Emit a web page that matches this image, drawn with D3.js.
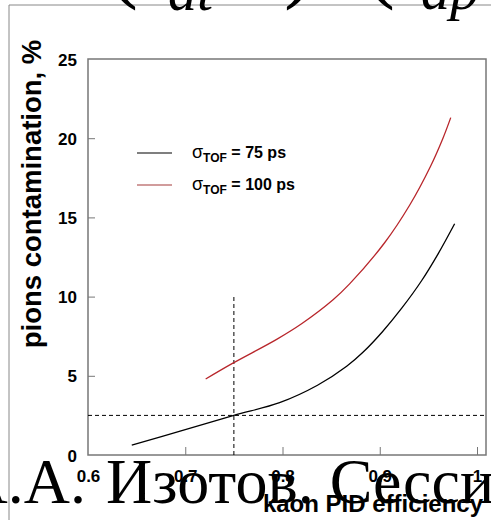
<!DOCTYPE html>
<meta charset="utf-8">
<title>pions contamination vs kaon PID efficiency</title>
<style>
  body { margin: 0; background: #fff; }
  .tick text { font-family: "Liberation Sans", Arial, sans-serif; font-weight: bold; font-size: 17px; fill: #000; }
  .tick line { stroke: #777; }
  .big { font-family: "Liberation Serif", "Times New Roman", serif; fill: #000; }
</style>
<body>
<script src="https://cdn.jsdelivr.net/npm/d3@7"></script>
<script>
// data
var eff75  = [0.645, 0.70, 0.75, 0.797, 0.836, 0.866, 0.883, 0.903, 0.923, 0.943, 0.960, 0.977];
var cont75 = [0.63, 1.6, 2.5, 3.3, 4.4, 5.6, 6.5, 7.8, 9.3, 11.0, 12.7, 14.6];
var eff100  = [0.721, 0.749, 0.794, 0.82, 0.852, 0.869, 0.905, 0.931, 0.952, 0.965, 0.973];
var cont100 = [4.8, 5.8, 7.3, 8.3, 9.8, 10.8, 13.4, 15.8, 18.2, 20.0, 21.3];
var xTicks = [0.6, 0.7, 0.8, 0.9, 1];
var yTicks = [0, 5, 10, 15, 20, 25];
var cutX = 0.75, cutY = 2.5, cutTop = 10;

var W = 491, H = 520;
var svg = d3.select("body").append("svg")
    .attr("width", W).attr("height", H);

// slide frame
svg.append("line").attr("x1", 9).attr("x2", W).attr("y1", 5).attr("y2", 5)
    .attr("stroke", "#888").attr("stroke-width", 1);
svg.append("line").attr("x1", 9).attr("x2", 9).attr("y1", 5).attr("y2", H)
    .attr("stroke", "#888").attr("stroke-width", 1);

// leftover formula at the top of the slide
var formula = [
  {t: "(", x: 108, y: -9, s: 90, it: false},
  {t: "dt", x: 168, y: 10, s: 58, it: true},
  {t: ")", x: 284, y: -9, s: 90, it: false},
  {t: "(", x: 365, y: -9, s: 90, it: false},
  {t: "dp", x: 421, y: 9, s: 58, it: true}
];
svg.selectAll("text.f").data(formula).enter().append("text")
    .attr("class", "big f")
    .attr("x", function(d) { return d.x; })
    .attr("y", function(d) { return d.y; })
    .style("font-size", function(d) { return d.s + "px"; })
    .style("font-style", function(d) { return d.it ? "italic" : "normal"; })
    .text(function(d) { return d.t; });

var x = d3.scaleLinear().domain([0.6, 1.0]).range([88, 477]);
var y = d3.scaleLinear().domain([0, 25]).range([455, 59]);
var right = 486;

var g = svg.append("g");

// frame
g.append("rect")
    .attr("x", x(0.6)).attr("y", y(25))
    .attr("width", right - x(0.6)).attr("height", y(0) - y(25))
    .attr("fill", "none").attr("stroke", "#777").attr("stroke-width", 1.5);

// axes with inward ticks
g.append("g").attr("transform", "translate(0," + y(0) + ")")
    .call(d3.axisBottom(x).tickValues(xTicks).tickSize(-8).tickPadding(15)
      .tickFormat(function(d) { return d === 1 ? "1" : d3.format(".1f")(d); }))
    .call(function(a) { a.select(".domain").remove(); })
    .call(function(a) { a.selectAll(".tick line").filter(function(d) { return d === 0.6; }).remove(); });

g.append("g").attr("transform", "translate(" + x(0.6) + ",0)")
    .call(d3.axisLeft(y).tickValues(yTicks).tickSize(-7).tickPadding(11))
    .call(function(a) { a.select(".domain").remove(); })
    .call(function(a) { a.selectAll(".tick line").filter(function(d) { return d === 0 || d === 25; }).remove(); })
    .call(function(a) { a.selectAll(".tick text").attr("dy", "0.36em"); });

// dashed cut lines
g.append("line")
    .attr("x1", x(0.6)).attr("x2", right)
    .attr("y1", y(cutY)).attr("y2", y(cutY))
    .attr("stroke", "#000").attr("stroke-width", 1).attr("stroke-dasharray", "4,3");
g.append("line")
    .attr("x1", x(cutX)).attr("x2", x(cutX))
    .attr("y1", y(0)).attr("y2", y(cutTop))
    .attr("stroke", "#000").attr("stroke-width", 1).attr("stroke-dasharray", "4,3");

// curves
var line = d3.line()
    .x(function(d) { return x(d[0]); })
    .y(function(d) { return y(d[1]); })
    .curve(d3.curveCatmullRom);

g.append("path").datum(d3.zip(eff75, cont75))
    .attr("d", line).attr("fill", "none")
    .attr("stroke", "#000").attr("stroke-width", 1.3);
g.append("path").datum(d3.zip(eff100, cont100))
    .attr("d", line).attr("fill", "none")
    .attr("stroke", "#b8262b").attr("stroke-width", 1.3);

// legend
var legend = [
  {v: "75", c: "#000", y: 153},
  {v: "100", c: "#a33a3a", y: 185}
];
var lg = g.selectAll("g.lg").data(legend).enter().append("g").attr("class", "lg");
lg.append("line")
    .attr("x1", 137).attr("x2", 172)
    .attr("y1", function(d) { return d.y; }).attr("y2", function(d) { return d.y; })
    .attr("stroke", function(d) { return d.c; }).attr("stroke-width", 1.2);
var lt = lg.append("text")
    .attr("x", 192).attr("y", function(d) { return d.y + 5; })
    .style("font-family", "'Liberation Sans', Arial, sans-serif")
    .style("font-weight", "bold").style("font-size", "16px");
lt.append("tspan").style("font-weight", "normal").style("font-size", "18px").text("σ");
lt.append("tspan").attr("dy", 4).style("font-size", "12px").text("TOF");
lt.append("tspan").attr("dy", -4).text(function(d) { return " = " + d.v + " ps"; });

// axis titles
svg.append("text")
    .attr("x", 483).attr("y", 512)
    .attr("text-anchor", "end")
    .style("font-family", "'Liberation Sans', Arial, sans-serif")
    .style("font-weight", "bold").style("font-size", "24px")
    .text("kaon PID efficiency");

svg.append("text")
    .attr("transform", "translate(41,194) rotate(-90)")
    .attr("text-anchor", "middle")
    .style("font-family", "'Liberation Sans', Arial, sans-serif")
    .style("font-weight", "bold").style("font-size", "27.5px")
    .text("pions contamination, %");

// slide footer overlapping the chart
svg.append("text")
    .attr("class", "big")
    .attr("x", 86).attr("y", 503)
    .attr("text-anchor", "end")
    .style("font-size", "64px")
    .text("А.А.");
svg.append("text")
    .attr("class", "big")
    .attr("x", 106).attr("y", 503)
    .style("font-size", "64px")
    .text("Изотов. Сессия");
</script>
</body>
